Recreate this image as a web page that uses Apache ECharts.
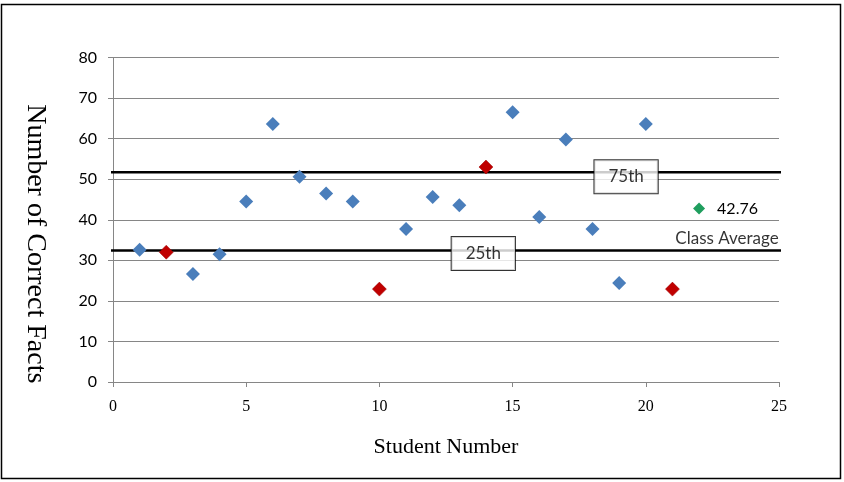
<!DOCTYPE html>
<html>
<head>
<meta charset="utf-8">
<script src="https://cdn.jsdelivr.net/npm/echarts@6/dist/echarts.min.js"></script>
<style>
html,body{margin:0;padding:0;background:#fff;}
#chart{width:844px;height:482px;}
</style>
</head>
<body>
<div id="chart"></div>
<script>
// ---- data ----
const students = [1,2,3,4,5,6,7,8,9,10,11,12,13,14,15,16,17,18,19,20,21];
const scores   = [32.6,32.0,26.6,31.5,44.5,63.6,50.6,46.5,44.5,22.9,37.7,45.6,43.6,53.0,66.5,40.7,59.8,37.7,24.4,63.6,22.9];
const groups   = ['b','r','b','b','b','b','b','b','b','r','b','b','b','r','b','b','b','b','b','b','r'];
const averageX = 22;
const classAverage = 42.76;
const percentile25 = 32.4;
const percentile75 = 51.7;
const xTicks = [0,5,10,15,20,25];
const yTicks = [0,10,20,30,40,50,60,70,80];

const blueData = students.map((s,i)=>[s,scores[i]]).filter((d,i)=>groups[i]==='b');
const redData  = students.map((s,i)=>[s,scores[i]]).filter((d,i)=>groups[i]==='r');

const chart = echarts.init(document.getElementById('chart'));
const axisGray = '#868686';
const lineSpanX = [-0.4, 25.25];

chart.setOption({
  animation:false,
  backgroundColor:'#fff',
  graphic:[{
    type:'rect', shape:{x:1.5,y:4.5,width:839,height:474},
    style:{fill:'none',stroke:'#000',lineWidth:1.5}, z:-1
  }],
  grid:{left:113,right:65,top:57.5,bottom:100},
  xAxis:{
    type:'value', min:xTicks[0], max:xTicks[xTicks.length-1], interval:5,
    name:'Student Number', nameLocation:'middle', nameGap:54,
    nameTextStyle:{fontFamily:'Liberation Serif',fontSize:22,color:'#000'},
    axisLine:{show:true,lineStyle:{color:axisGray,width:1}},
    axisTick:{show:true,length:5,lineStyle:{color:axisGray}},
    axisLabel:{margin:17,fontFamily:'Liberation Serif',fontSize:16,color:'#000'},
    splitLine:{show:false}
  },
  yAxis:{
    type:'value', min:yTicks[0], max:yTicks[yTicks.length-1], interval:10,
    name:'Number of Correct Facts', nameLocation:'middle', nameGap:64, nameRotate:-90,
    nameTextStyle:{fontFamily:'Liberation Serif',fontSize:28,color:'#000',padding:[0,0,0,48]},
    axisLine:{show:true,lineStyle:{color:axisGray,width:1}},
    axisTick:{show:true,length:5,lineStyle:{color:axisGray}},
    axisLabel:{margin:16,fontFamily:'Lato',fontSize:16,color:'#000'},
    splitLine:{show:true,lineStyle:{color:axisGray,width:1}}
  },
  series:[
    {
      type:'line', clip:false, symbol:'none', silent:true, z:3,
      lineStyle:{color:'#000',width:2.5},
      data:[[lineSpanX[0],percentile75],[lineSpanX[1],percentile75]]
    },
    {
      type:'line', clip:false, symbol:'none', silent:true, z:3,
      lineStyle:{color:'#000',width:2.5},
      data:[[lineSpanX[0],percentile25],[lineSpanX[1],percentile25]]
    },
    {
      type:'scatter', symbol:'diamond', symbolSize:14, z:5,
      itemStyle:{color:'#4a7ebb',opacity:1},
      data:blueData
    },
    {
      type:'scatter', symbol:'diamond', symbolSize:14, z:5,
      itemStyle:{color:'#c00000',borderColor:'#9a0000',borderWidth:0.5,opacity:1},
      data:redData
    },
    {
      type:'scatter', symbol:'diamond', symbolSize:12, z:5,
      itemStyle:{color:'#1f9e5e',opacity:1},
      label:{show:true,position:'right',distance:12,formatter:()=>classAverage.toFixed(2),
        fontFamily:'Lato',fontSize:16,color:'#000'},
      data:[[averageX,classAverage]]
    },
    {
      type:'scatter', symbolSize:0, z:6, silent:true,
      label:{show:true,position:'inside',fontFamily:'Lato',fontSize:17,color:'#000',
        backgroundColor:'#fff',borderColor:'#000',borderWidth:1,padding:[8,14],lineHeight:17,
        formatter:(p)=>p.name},
      data:[
        {name:'75th',value:[19.26,50.6]},
        {name:'25th',value:[13.9,31.7]}
      ]
    },
    {
      type:'scatter', symbolSize:0, z:6, silent:true,
      label:{show:true,position:'left',distance:0,fontFamily:'Lato',fontSize:17,color:'#000',
        formatter:'Class Average'},
      data:[[24.99,35.3]]
    }
  ]
});
</script>
</body>
</html>
